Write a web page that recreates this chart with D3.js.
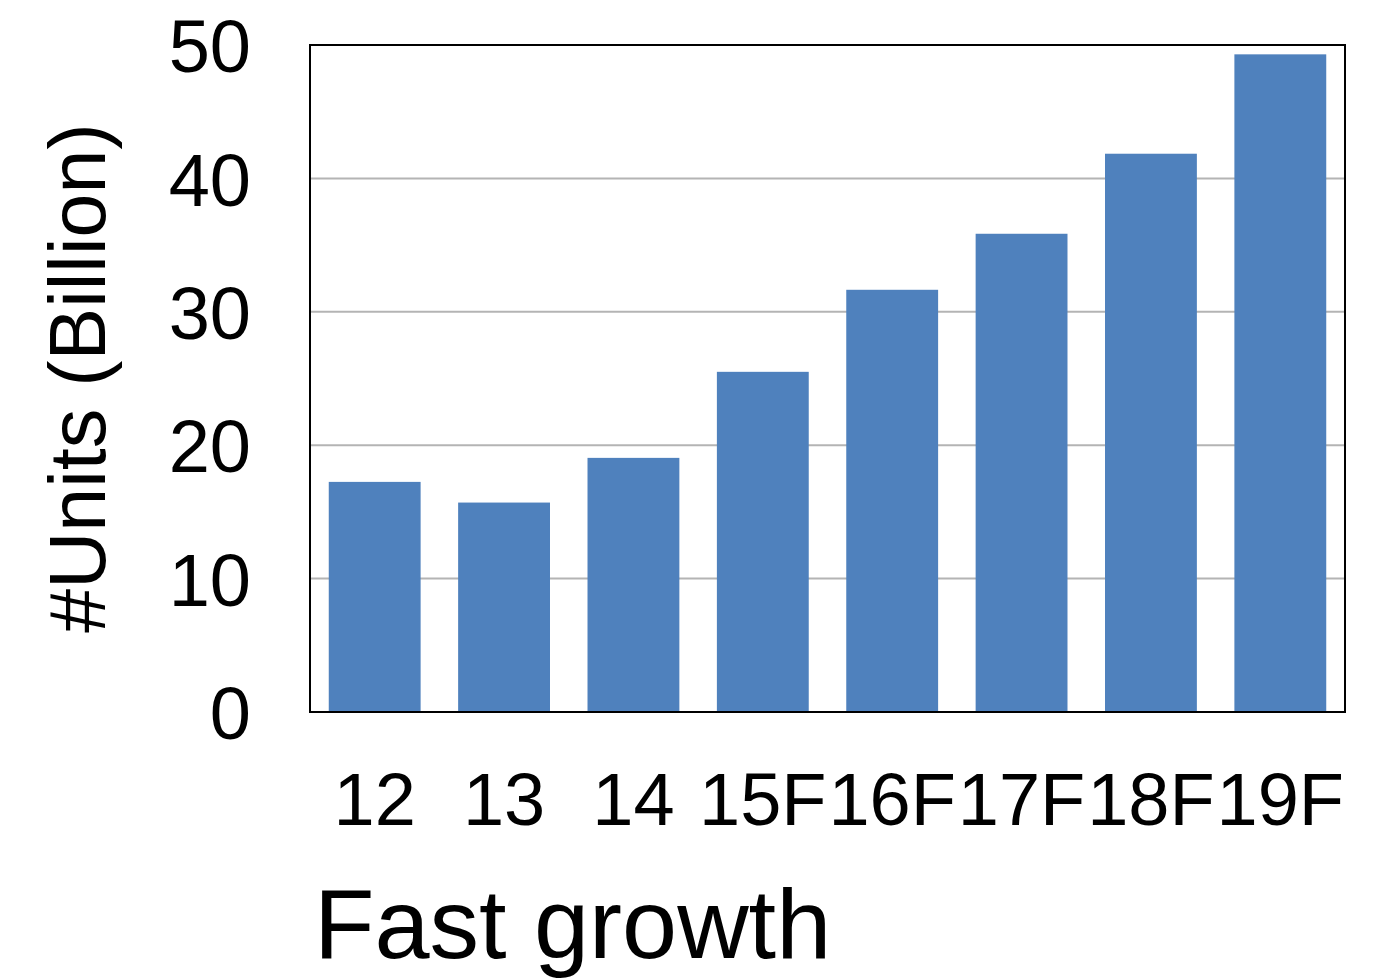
<!DOCTYPE html>
<html>
<head>
<meta charset="utf-8">
<script src="https://cdn.jsdelivr.net/npm/d3@7"></script>
<style>
  body { margin: 0; background: #fff; }
  text { font-family: "Liberation Sans", Arial, Helvetica, sans-serif; fill: #000; }
</style>
</head>
<body>
<svg id="chart" width="1397" height="980"></svg>
<script>
const years = ["12", "13", "14", "15F", "16F", "17F", "18F", "19F"];
const units = [17.25, 15.7, 19.05, 25.5, 31.65, 35.85, 41.85, 49.3];
const yTicks = [0, 10, 20, 30, 40, 50];

const margin = { left: 310, top: 45, right: 52, bottom: 268 };
const width = 1397 - margin.left - margin.right;
const height = 980 - margin.top - margin.bottom;

const svg = d3.select("#chart");
const g = svg.append("g").attr("transform", "translate(" + margin.left + "," + margin.top + ")");

const x = d3.scaleBand().domain(years).range([0, width]).paddingInner(0.29).paddingOuter(0.145);
const y = d3.scaleLinear().domain([0, 50]).range([height, 0]);

// gridlines
g.append("g")
  .selectAll("line")
  .data(yTicks.filter(d => d > 0 && d < 50))
  .join("line")
  .attr("x1", 0).attr("x2", width)
  .attr("y1", d => y(d)).attr("y2", d => y(d))
  .attr("stroke", "#b4b4b4")
  .attr("stroke-width", 2);

// bars
g.append("g")
  .selectAll("rect")
  .data(years)
  .join("rect")
  .attr("x", d => x(d))
  .attr("width", x.bandwidth())
  .attr("y", (d, i) => y(units[i]))
  .attr("height", (d, i) => height - y(units[i]))
  .attr("fill", "#4f81bd");

// frame
g.append("rect")
  .attr("x", 0).attr("y", 0)
  .attr("width", width).attr("height", height)
  .attr("fill", "none")
  .attr("stroke", "#000")
  .attr("stroke-width", 2);

// y axis
const yAxis = g.append("g")
  .call(d3.axisLeft(y).tickValues(yTicks).tickSize(0).tickPadding(59));
yAxis.select(".domain").remove();
yAxis.selectAll("text")
  .style("font-size", "74px")
  .style("font-family", "Liberation Sans, Arial, sans-serif")
  .attr("dy", "0.36em");

// x axis
const xAxis = g.append("g")
  .attr("transform", "translate(0," + height + ")")
  .call(d3.axisBottom(x).tickSize(0).tickPadding(60));
xAxis.select(".domain").remove();
xAxis.selectAll("text")
  .style("font-size", "74px")
  .style("font-family", "Liberation Sans, Arial, sans-serif");

// axis labels
svg.append("text")
  .attr("text-anchor", "middle")
  .attr("transform", "translate(105," + 378 + ")rotate(-90)")
  .style("font-size", "79px")
  .text("#Units (Billion)");

svg.append("text")
  .attr("x", 314)
  .attr("y", 958)
  .style("font-size", "99px")
  .text("Fast growth");
</script>
</body>
</html>
